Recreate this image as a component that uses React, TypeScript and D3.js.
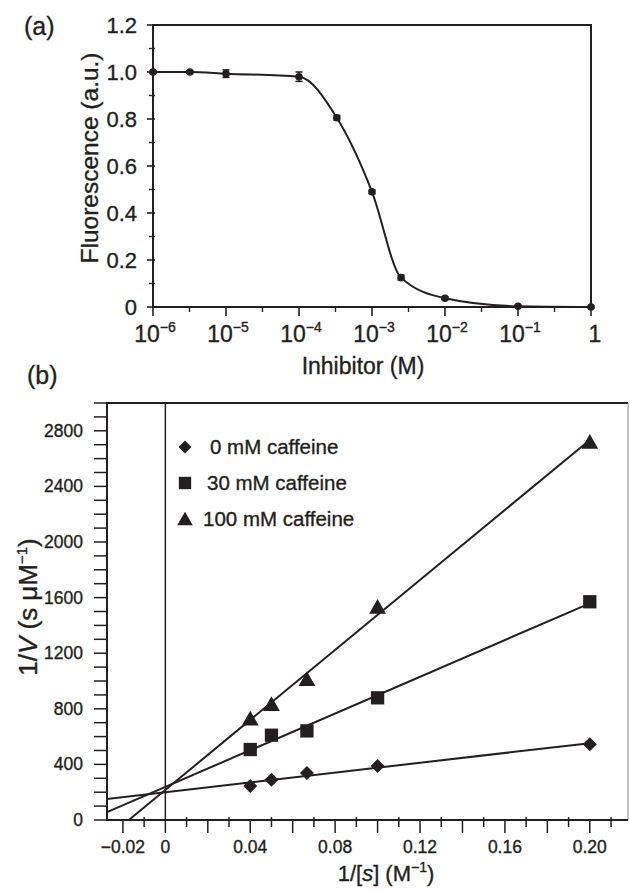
import React from "react";
import * as d3 from "d3";

// ---------- Panel (a) data ----------
const inhibitorConc = [1e-6, 3.2e-6, 1e-5, 1e-4, 3.3e-4, 1e-3, 2.5e-3, 1e-2, 1e-1, 1];
const fluorescence = [1.0, 1.0, 0.993, 0.98, 0.805, 0.49, 0.125, 0.037, 0.003, 0.0];
const fluorError = [0.006, 0.006, 0.016, 0.02, 0.01, 0.008, 0.01, 0.006, 0.004, 0.003];
const xTicksA = [1e-6, 1e-5, 1e-4, 1e-3, 1e-2, 1e-1, 1];
const xTickExpA = ["−6", "−5", "−4", "−3", "−2", "−1", ""];
const yTicksA = [0, 0.2, 0.4, 0.6, 0.8, 1.0, 1.2];
const yTickLabelsA = ["0", "0.2", "0.4", "0.6", "0.8", "1.0", "1.2"];

// ---------- Panel (b) data ----------
const invSubstrate = [0.04, 0.05, 0.0667, 0.1, 0.2];
const caffeine0 = [245, 290, 338, 388, 545];
const caffeine30 = [507, 610, 641, 879, 1570];
const caffeine100 = [730, 834, 1014, 1534, 2720];
const seriesLabels = ["0 mM caffeine", "30 mM caffeine", "100 mM caffeine"];
const seriesShapes = ["diamond", "square", "triangle"];
const yTicksB = [0, 400, 800, 1200, 1600, 2000, 2400, 2800];
const xTicksB = [-0.02, 0, 0.04, 0.08, 0.12, 0.16, 0.2];
const xTickLabelsB = ["−0.02", "0", "0.04", "0.08", "0.12", "0.16", "0.20"];

const FONT = "'Liberation Sans', Arial, Helvetica, sans-serif";
const INK = "#231f20";
const TS = { stroke: INK, strokeWidth: 0.35 };

function markerPath(shape: string, cx: number, cy: number, s: number): string {
  const h = s / 2;
  if (shape === "diamond") {
    return `M${cx},${cy - h}L${cx + h},${cy}L${cx},${cy + h}L${cx - h},${cy}Z`;
  }
  if (shape === "square") {
    const q = h * 0.95;
    return `M${cx - q},${cy - q}H${cx + q}V${cy + q}H${cx - q}Z`;
  }
  const w = s * 0.6;
  const th = s * 0.98;
  return `M${cx},${cy - th / 2 - 1}L${cx + w},${cy + th / 2}L${cx - w},${cy + th / 2}Z`;
}

function fit(xs: number[], ys: number[]) {
  const mx = d3.mean(xs)!;
  const my = d3.mean(ys)!;
  let sxy = 0;
  let sxx = 0;
  xs.forEach((x, i) => {
    sxy += (x - mx) * (ys[i] - my);
    sxx += (x - mx) * (x - mx);
  });
  const slope = sxy / sxx;
  return { slope, intercept: my - slope * mx };
}

export default function App() {
  // Panel A scales
  const xA = d3.scaleLog().domain([1e-6, 1]).range([153, 591]);
  const yA = d3.scaleLinear().domain([0, 1.2]).range([307, 25]);
  const ptsA = inhibitorConc.map((c, i) => [xA(c), yA(fluorescence[i])] as [number, number]);
  const curveA = d3.line().curve(d3.curveMonotoneX)(ptsA) || "";
  const minorXA = d3.range(-6, 0).map((e) => Math.pow(10, e + 0.5));
  const minorYA = d3.range(0.1, 1.2, 0.2);

  // Panel B scales
  const xB = d3.scaleLinear().domain([-0.0275, 0.218]).range([107, 628]);
  const yB = d3.scaleLinear().domain([0, 3000]).range([820, 403]);
  const seriesB = [caffeine0, caffeine30, caffeine100];
  const ticksYB = d3.range(0, 3001, 100);
  const ticksXB = d3.range(-2, 22).map((k) => k / 100);

  return (
    <svg width={630} height={890} style={{ position: "absolute", left: 0, top: 0, background: "#fff" }} fontFamily={FONT}>
      <rect x={0} y={0} width={630} height={890} fill="#fff" />
      {/* ================= Panel (a) ================= */}
      <text x={24} y={35} fontSize={25} fill={INK} {...TS}>(a)</text>
      <rect x={153} y={25} width={438} height={282} fill="none" stroke={INK} strokeWidth={2} />
      {yTicksA.map((v, i) => (
        <g key={"ya" + i}>
          <line x1={147} x2={155} y1={yA(v)} y2={yA(v)} stroke={INK} strokeWidth={1.6} />
          <text x={137} y={yA(v) + 8} fontSize={22} textAnchor="end" fill={INK} {...TS}>{yTickLabelsA[i]}</text>
        </g>
      ))}
      {minorYA.map((v, i) => (
        <line key={"yam" + i} x1={149} x2={155} y1={yA(v)} y2={yA(v)} stroke={INK} strokeWidth={1.4} />
      ))}
      {xTicksA.map((v, i) => (
        <g key={"xa" + i}>
          <line x1={xA(v)} x2={xA(v)} y1={306} y2={316} stroke={INK} strokeWidth={1.6} />
          <text x={xA(v) + 2} y={342} fontSize={23} textAnchor="middle" fill={INK} {...TS}>
            {xTickExpA[i] ? (
              <>
                <tspan>10</tspan>
                <tspan dy={-10} fontSize={14}>{xTickExpA[i]}</tspan>
              </>
            ) : (
              <tspan dx={2}>1</tspan>
            )}
          </text>
        </g>
      ))}
      {minorXA.map((v, i) => (
        <line key={"xam" + i} x1={xA(v)} x2={xA(v)} y1={306} y2={312} stroke={INK} strokeWidth={1.4} />
      ))}
      <text x={363} y={374} fontSize={23} textAnchor="middle" fill={INK} {...TS}>Inhibitor (M)</text>
      <text transform="translate(98,158) rotate(-90)" fontSize={24.5} textAnchor="middle" fill={INK} {...TS}>Fluorescence (a.u.)</text>
      <path d={curveA} fill="none" stroke={INK} strokeWidth={2} />
      {ptsA.map(([px, py], i) => {
        const top = yA(fluorescence[i] + fluorError[i]);
        const bot = yA(fluorescence[i] - fluorError[i]);
        return (
          <g key={"pa" + i}>
            <line x1={px} x2={px} y1={top} y2={bot} stroke={INK} strokeWidth={1.5} />
            <line x1={px - 3.5} x2={px + 3.5} y1={top} y2={top} stroke={INK} strokeWidth={1.5} />
            <line x1={px - 3.5} x2={px + 3.5} y1={bot} y2={bot} stroke={INK} strokeWidth={1.5} />
            <circle cx={px} cy={py} r={3.8} fill={INK} />
          </g>
        );
      })}

      {/* ================= Panel (b) ================= */}
      <text x={27} y={384} fontSize={25} fill={INK} {...TS}>(b)</text>
      <line x1={107} x2={628} y1={403} y2={403} stroke={INK} strokeWidth={2} />
      <line x1={628} x2={628} y1={403} y2={820} stroke="#9a9a9a" strokeWidth={1.2} />
      <line x1={107} x2={107} y1={402} y2={821} stroke={INK} strokeWidth={2} />
      <line x1={107} x2={628} y1={820} y2={820} stroke={INK} strokeWidth={2} />
      <line x1={xB(0)} x2={xB(0)} y1={403} y2={820} stroke={INK} strokeWidth={1.5} />
      {ticksYB.map((v, i) => (
        <line key={"ybt" + i} x1={94} x2={107} y1={yB(v)} y2={yB(v)} stroke={INK} strokeWidth={1.5} />
      ))}
      {yTicksB.map((v, i) => (
        <text key={"ybl" + i} x={83} y={yB(v) + 6} fontSize={17.5} textAnchor="end" fill={INK} {...TS}>{v}</text>
      ))}
      {ticksXB.map((v, i) => {
        const major = Math.round(v * 100) % 2 === 0;
        return (
          <line key={"xbt" + i} x1={xB(v)} x2={xB(v)} y1={major ? 819 : 817} y2={major ? 833 : 827} stroke={INK} strokeWidth={1.5} />
        );
      })}
      {xTicksB.map((v, i) => (
        <text key={"xbl" + i} x={xB(v)} y={853} fontSize={17.5} textAnchor="middle" fill={INK} {...TS}>{xTickLabelsB[i]}</text>
      ))}
      <text x={386} y={881} fontSize={22} textAnchor="middle" fill={INK} {...TS}>
        <tspan>1/[</tspan>
        <tspan fontStyle="italic">s</tspan>
        <tspan>] (M</tspan>
        <tspan dy={-9} fontSize={14}>−1</tspan>
        <tspan dy={9}>)</tspan>
      </text>
      <text transform="translate(37,607) rotate(-90)" fontSize={26} textAnchor="middle" fill={INK} {...TS}>
        <tspan>1/</tspan>
        <tspan fontStyle="italic">V</tspan>
        <tspan> (s μM</tspan>
        <tspan dy={-10} fontSize={15}>−1</tspan>
        <tspan dy={10}>)</tspan>
      </text>
      {seriesB.map((ys, si) => {
        const { slope, intercept } = fit(invSubstrate, ys);
        const x0 = Math.max(xB.domain()[0], -intercept / slope);
        const x1 = invSubstrate[invSubstrate.length - 1];
        return (
          <line key={"fl" + si} x1={xB(x0)} y1={yB(intercept + slope * x0)} x2={xB(x1)} y2={yB(intercept + slope * x1)} stroke={INK} strokeWidth={2} />
        );
      })}
      {seriesB.map((ys, si) =>
        ys.map((v, i) => (
          <path key={"mk" + si + "-" + i} d={markerPath(seriesShapes[si], xB(invSubstrate[i]), yB(v), 14)} fill={INK} />
        ))
      )}
      {seriesLabels.map((lab, i) => {
        const cy = 447 + i * 36;
        const tx = [210, 207, 203][i];
        return (
          <g key={"lg" + i}>
            <path d={markerPath(seriesShapes[i], 185, cy, 13)} fill={INK} />
            <text x={tx} y={cy + 7} fontSize={20.5} fill={INK} {...TS}>{lab}</text>
          </g>
        );
      })}
    </svg>
  );
}
